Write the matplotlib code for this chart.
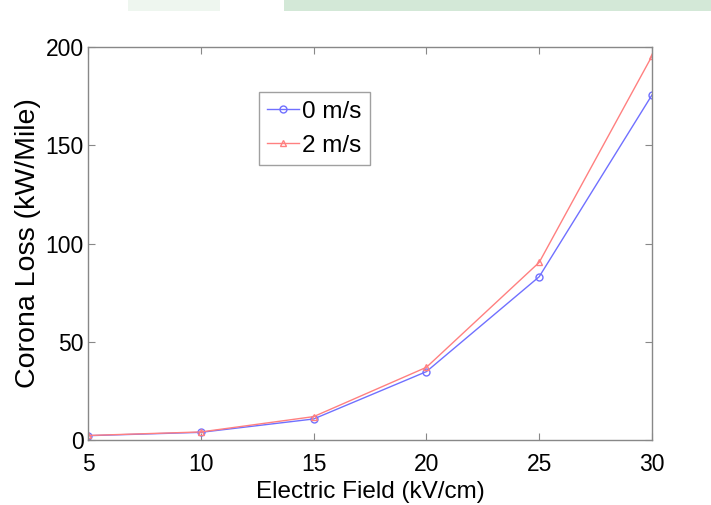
import matplotlib
matplotlib.use('Agg')
import matplotlib.pyplot as plt
from matplotlib.patches import Rectangle

field = [5, 10, 15, 20, 25, 30]
loss_0ms = [2.2, 3.9, 10.7, 34.8, 83.1, 175.6]
loss_2ms = [2.3, 4.1, 11.9, 37.0, 90.4, 195.4]
labels = ['0 m/s', '2 m/s']

plt.rcParams['font.family'] = ['Liberation Sans', 'DejaVu Sans']

fig = plt.figure(figsize=(7.11, 5.05), dpi=100)

# faint green watermark band at the top edge
fig.patches.append(Rectangle((0.40, 0.979), 0.60, 0.021, transform=fig.transFigure,
                             color='#d3e8d7', lw=0))
fig.patches.append(Rectangle((0.18, 0.979), 0.13, 0.021, transform=fig.transFigure,
                             color='#eef6ef', lw=0))

ax = fig.add_axes([0.1238, 0.1287, 0.7932, 0.7782])

ax.plot(field, loss_0ms, color='#7070ff', lw=1.0, marker='o', ms=5,
        mfc='none', mec='#7070ff', label=labels[0])
ax.plot(field, loss_2ms, color='#ff8080', lw=1.0, marker='^', ms=5,
        mfc='none', mec='#ff8080', label=labels[1])

ax.set_xlim(5, 30)
ax.set_ylim(0, 200)
ax.set_xticks([5, 10, 15, 20, 25, 30])
ax.set_yticks([0, 50, 100, 150, 200])
ax.tick_params(direction='in', length=5, width=0.8, color='#888888',
               labelsize=16.5, top=True, right=True)
ax.tick_params(axis='x', pad=9)
ax.tick_params(axis='y', pad=3)
for s in ax.spines.values():
    s.set_color('#888888')
    s.set_linewidth(1.0)

ax.set_xlabel('Electric Field (kV/cm)', fontsize=17.5, labelpad=4)
ax.set_ylabel('Corona Loss (kW/Mile)', fontsize=20.5, labelpad=3)

leg = ax.legend(loc='upper left', bbox_to_anchor=(0.303, 0.885), fontsize=17.5,
                frameon=True, fancybox=False, edgecolor='#888888',
                handlelength=1.28, handletextpad=0.15, borderpad=0.35,
                labelspacing=0.5, borderaxespad=0)
leg.get_frame().set_linewidth(1.0)

fig.savefig('out.png', dpi=100)
